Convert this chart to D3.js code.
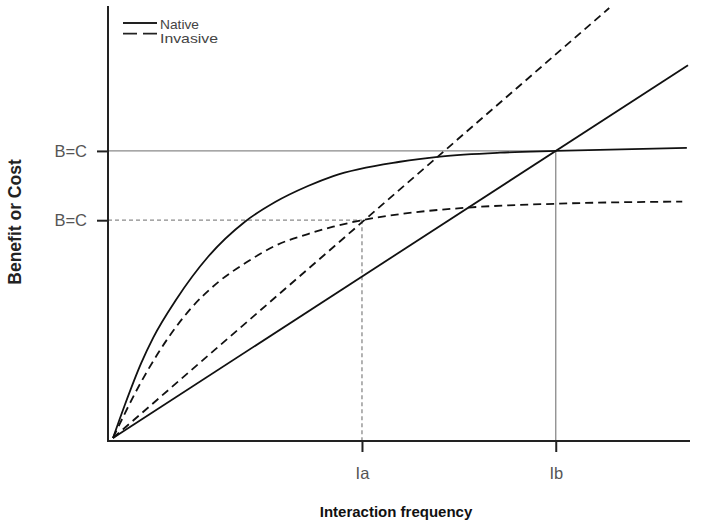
<!DOCTYPE html>
<html>
<head>
<meta charset="utf-8">
<script src="https://cdn.jsdelivr.net/npm/d3@7"></script>
<style>
  body { margin: 0; background: #fff; }
  text { font-family: "Liberation Sans", Arial, sans-serif; }
</style>
</head>
<body>
<div id="chart"></div>
<script>
// interaction frequency (x) vs benefit or cost (y), arbitrary units 0-100
const nativeBenefit = [
  [0, 0], [2.1, 7.8], [4.9, 17.3], [7.0, 23.2], [11.0, 32.0], [16.5, 41.8],
  [23.0, 50.0], [28.2, 54.5], [33.9, 58.2], [38.3, 60.5], [49.9, 63.8],
  [56.9, 65.0], [67.3, 65.9], [77.0, 66.3], [99.8, 67.0]
];
const invasiveBenefit = [
  [0, 0], [4.3, 11.5], [7.8, 19.5], [13.6, 30.0], [18.3, 36.0], [23.5, 40.8],
  [28.2, 44.4], [33.9, 47.1], [38.3, 48.8], [43.3, 50.3], [49.9, 51.7],
  [61.6, 53.2], [77.0, 54.1], [99.0, 54.6]
];
const nativeCost = [[0, 0], [100, 86.1]];
const invasiveCost = [[0, 0], [86.3, 99.3]];

const xTickValues = [43.3, 77.0];
const xTickLabels = ['Ia', 'Ib'];
const yTickValues = [50.3, 66.3];
const yTickLabels = ['B=C', 'B=C'];

const legendNames = ['Native', 'Invasive'];

const width = 702;
const height = 525;

const svg = d3.select('#chart')
  .append('svg')
  .attr('width', width)
  .attr('height', height);

const x = d3.scaleLinear().domain([0, 100]).range([113, 688]);
const y = d3.scaleLinear().domain([0, 100]).range([438, 5]);

const axisX = 108;   // y axis line position
const axisY = 441;   // x axis line position

// reference lines
const refs = [
  { xv: xTickValues[1], yv: yTickValues[1], dash: null },
  { xv: xTickValues[0], yv: yTickValues[0], dash: '4,3' },
];
refs.forEach((r) => {
  svg.append('line')
    .attr('x1', axisX).attr('x2', x(r.xv))
    .attr('y1', y(r.yv)).attr('y2', y(r.yv))
    .attr('stroke', '#8a8a8a').attr('stroke-width', 1.3)
    .attr('stroke-dasharray', r.dash);
  svg.append('line')
    .attr('x1', x(r.xv)).attr('x2', x(r.xv))
    .attr('y1', y(r.yv)).attr('y2', axisY)
    .attr('stroke', '#8a8a8a').attr('stroke-width', 1.3)
    .attr('stroke-dasharray', r.dash);
});

const curve = d3.line()
  .x((d) => x(d[0]))
  .y((d) => y(d[1]))
  .curve(d3.curveMonotoneX);

const series = [
  { data: nativeBenefit, dash: null },
  { data: invasiveBenefit, dash: '8,5' },
  { data: nativeCost, dash: null },
  { data: invasiveCost, dash: '8,5' },
];

svg.append('g')
  .selectAll('path')
  .data(series)
  .enter()
  .append('path')
    .attr('d', (d) => curve(d.data))
    .attr('fill', 'none')
    .attr('stroke', '#111')
    .attr('stroke-width', 1.8)
    .attr('stroke-dasharray', (d) => d.dash);

// axes
const yAxis = svg.append('g')
  .attr('transform', `translate(${axisX},0)`)
  .call(d3.axisLeft(y)
    .tickValues(yTickValues)
    .tickSize(11)
    .tickPadding(10)
    .tickFormat((d, i) => yTickLabels[i]));

const xAxis = svg.append('g')
  .attr('transform', `translate(0,${axisY})`)
  .call(d3.axisBottom(x)
    .tickValues(xTickValues)
    .tickSize(11)
    .tickPadding(15)
    .tickFormat((d, i) => xTickLabels[i]));

[yAxis, xAxis].forEach((g) => {
  g.select('.domain').remove();
  g.selectAll('line').attr('stroke', '#222').attr('stroke-width', 2);
  g.selectAll('text')
    .attr('fill', '#555')
    .style('font-size', '16.5px')
    .style('font-family', '"Liberation Sans", Arial, sans-serif');
});

svg.append('line')
  .attr('x1', axisX).attr('x2', axisX)
  .attr('y1', 6).attr('y2', axisY + 1)
  .attr('stroke', '#222').attr('stroke-width', 2);
svg.append('line')
  .attr('x1', axisX - 1).attr('x2', 690)
  .attr('y1', axisY).attr('y2', axisY)
  .attr('stroke', '#222').attr('stroke-width', 2);

// axis titles
svg.append('text')
  .attr('x', 396)
  .attr('y', 517)
  .attr('text-anchor', 'middle')
  .style('font-size', '15px')
  .style('font-weight', 'bold')
  .attr('fill', '#111')
  .text('Interaction frequency');

svg.append('text')
  .attr('transform', 'translate(21,222) rotate(-90)')
  .attr('text-anchor', 'middle')
  .style('font-size', '17.5px')
  .style('font-weight', 'bold')
  .attr('fill', '#222')
  .text('Benefit or Cost');

// legend (text squeezed vertically like the original)
const legendWidths = [39, 58];

const legend = svg.append('g')
  .selectAll('g')
  .data(legendNames)
  .enter()
  .append('g')
    .attr('transform', (d, i) => `translate(123,${23 + i * 10.7})`);

legend.append('line')
  .attr('x1', 0).attr('x2', 34)
  .attr('y1', 0).attr('y2', 0)
  .attr('stroke', '#222')
  .attr('stroke-width', 1.8)
  .attr('stroke-dasharray', (d, i) => (i === 0 ? null : '14,6'));

legend.append('text')
  .attr('x', 37)
  .attr('y', (d, i) => 5.5 + i * 3.8)
  .attr('fill', '#444')
  .style('font-size', '13px')
  .attr('textLength', (d, i) => legendWidths[i])
  .attr('lengthAdjust', 'spacingAndGlyphs')
  .text((d) => d);
</script>
</body>
</html>
